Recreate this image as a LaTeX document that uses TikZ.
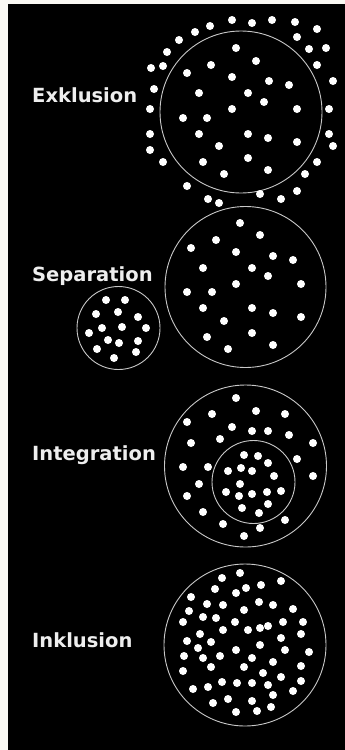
\documentclass[tikz,border=0pt]{standalone}
\usepackage{fontspec}
\usepackage{xcolor}
\usepackage{tikz}
\setsansfont{DejaVu Sans}
\definecolor{paper}{RGB}{250, 249, 244}
\definecolor{night}{RGB}{0, 0, 0}
\definecolor{ringgray}{RGB}{200, 200, 200}
\definecolor{dotwhite}{RGB}{255, 255, 255}
\definecolor{textwhite}{RGB}{238, 238, 238}

\begin{document}
\begin{tikzpicture}[
    x=1pt, y=-1pt,
    ring/.style={draw=ringgray, line width=0.9pt},
    member/.style={fill=dotwhite},
    grouptitle/.style={anchor=base west, inner sep=0pt, text=textwhite,
      font=\sffamily\bfseries\fontsize{19.5}{22}\selectfont}
]
  \useasboundingbox (0,0) rectangle (345,750);
  \fill[paper] (0,0) rectangle (345,750);
  \fill[night] (8,4) rectangle (345,750);

  % Titles
  \node[grouptitle] (exkl)  at (32,102) {Exklusion};
  \node[grouptitle] (sepa)  at (32,281) {Separation};
  \node[grouptitle] (integ) at (32,460) {Integration};
  \node[grouptitle] (inkl)  at (32,647) {Inklusion};

  % Exklusion
  \draw[ring] (241,112) circle (81);
  \foreach \x/\y in {232/20, 252/23, 272/20, 295/22, 317/29, 210/26, 195/32,
      179/40, 167/52, 163/66, 151/68, 154/89, 297/37, 309/49, 326/48, 317/65,
      333/81, 150/109, 329/109, 150/134, 329/134, 150/150, 333/146, 163/162,
      317/162, 305/174, 187/186, 260/194, 297/191, 208/199, 219/203, 281/199,
      236/48, 256/61, 211/65, 187/73, 232/77, 269/81, 289/85, 199/93, 248/93,
      264/102, 232/109, 297/109, 183/118, 207/118, 199/134, 248/134, 268/138,
      297/142, 219/146, 203/162, 248/158, 268/170, 224/174}
    \fill[member] (\x,\y) circle (4);

  % Separation
  \draw[ring] (245.5,287) circle (80.5);
  \draw[ring] (118.5,328) circle (41.5);
  \foreach \x/\y in {240/223, 260/235, 216/240, 191/248, 236/252, 273/256,
      293/260, 203/268, 252/268, 268/276, 236/284, 301/284, 187/292, 212/292,
      203/308, 252/308, 273/313, 301/317, 224/321, 207/337, 252/333, 228/349,
      273/345,
      106/300, 125/300, 96/314, 118/312, 138/317, 102/328, 122/327, 146/328,
      89/333, 108/340, 119/343, 138/341, 97/349, 136/352, 114/358}
    \fill[member] (\x,\y) circle (4);

  % Integration
  \draw[ring] (245.5,466) circle (81);
  \draw[ring] (253.5,482) circle (41.5);
  \foreach \x/\y in {236/398, 212/414, 256/411, 285/414, 187/422, 232/427,
      252/431, 268/431, 289/435, 313/443, 191/443, 220/439, 244/455, 258/456,
      297/459, 268/463, 183/467, 208/467, 228/471, 241/468, 252/471, 313/476,
      274/476, 240/484, 199/484, 226/492, 239/496, 252/494, 267/492, 281/491,
      187/496, 268/504, 242/508, 203/512, 259/513, 285/520, 223/524, 260/528,
      244/536}
    \fill[member] (\x,\y) circle (4);

  % Inklusion
  \draw[ring] (245,645) circle (81);
  \foreach \x/\y in {240/573, 222/578, 281/581, 261/585, 246/588, 215/589,
      236/593, 191/597, 207/604, 223/605, 259/602, 273/605, 293/609, 189/611,
      244/610, 203/617, 216/618, 235/622, 283/622, 303/622, 183/622, 268/626,
      260/628, 223/630, 248/630, 301/634, 200/634, 281/638, 187/641, 211/642,
      260/645, 285/650, 198/648, 236/650, 309/652, 184/656, 203/658, 220/656,
      252/658, 273/662, 301/666, 211/667, 244/667, 183/671, 263/673, 281/677,
      301/681, 222/682, 237/683, 252/683, 268/685, 193/689, 208/687, 293/691,
      273/695, 228/699, 252/701, 213/703, 271/707, 236/712, 257/711}
    \fill[member] (\x,\y) circle (4);
\end{tikzpicture}
\end{document}
